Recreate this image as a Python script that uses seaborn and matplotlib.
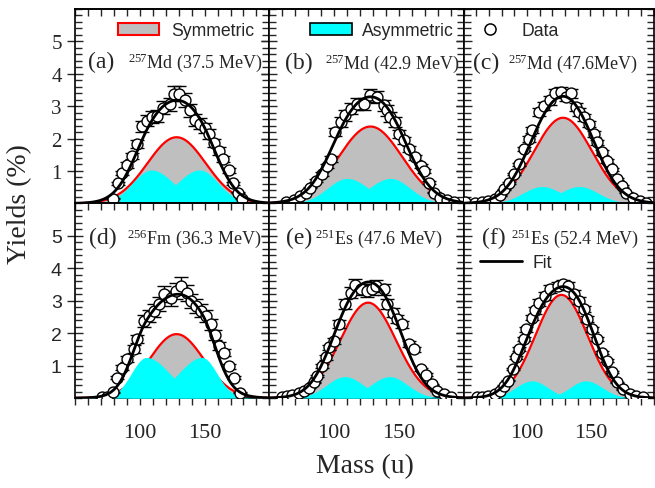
import numpy as np
import pandas as pd
import matplotlib
matplotlib.use("Agg")
import matplotlib.pyplot as plt
import seaborn as sns
from matplotlib.patches import Patch
from matplotlib.lines import Line2D
from matplotlib.ticker import MultipleLocator, FixedLocator

# ---------------- data ----------------
panel_tags = ["(a)", "(b)", "(c)", "(d)", "(e)", "(f)"]
panel_titles = [r"$^{257}$Md (37.5 MeV)", r"$^{257}$Md (42.9 MeV)", r"$^{257}$Md (47.6MeV)",
                r"$^{256}$Fm (36.3 MeV)", r"$^{251}$Es (47.6 MeV)", r"$^{251}$Es (52.4 MeV)"]

# fitted components
sym_amp = [2.04, 2.37, 2.64, 1.97, 2.94, 3.18]
sym_mu = [128.4, 128.0, 128.4, 128.4, 126.2, 127.1]
sym_sigma = [22.5, 24.5, 23.0, 21.0, 21.5, 20.6]
asym_amp = [1.03, 0.77, 0.52, 1.25, 0.66, 0.53]
asym_mu_light = [109.0, 110.0, 111.7, 105.0, 108.2, 104.0]
asym_mu_heavy = [146.0, 143.4, 141.2, 148.0, 142.7, 146.4]
asym_sigma_in = [17.0, 16.4, 15.5, 18.0, 14.3, 12.4]
asym_sigma_out = [14.6, 15.2, 15.0, 11.5, 14.0, 13.0]

# measured yields
mass_a = [79.5, 83, 86.5, 90, 94, 98, 102, 105.5, 109.5, 113.5, 118, 123, 126.5, 130.5, 134.5,
          138.5, 142.5, 146.5, 150.5, 153.5, 157, 161, 164.5, 168.5, 172, 175.5, 178.5]
yield_a = [0.15, 0.62, 0.93, 1.18, 1.46, 1.83, 2.38, 2.55, 2.67, 2.70, 2.95, 3.05, 3.38, 3.38, 3.18,
           2.87, 2.58, 2.45, 2.32, 2.14, 1.86, 1.62, 1.36, 1.02, 0.62, 0.33, 0.15]
mass_b = [62.5, 68.9, 74, 77.9, 81.7, 85.6, 90.7, 94.6, 97.2, 101, 104.9, 108.2, 112.6, 117.7, 122.9,
          128, 133.1, 138.3, 140.9, 143.4, 147.3, 149.9, 153.8, 157.6, 162.7, 166.6, 169.1, 173,
          176.9, 182, 187.2, 192.3]
yield_b = [0.04, 0.12, 0.23, 0.33, 0.49, 0.70, 0.90, 1.16, 1.37, 2.2, 2.51, 2.71, 2.92, 3.07, 3.07,
           3.33, 3.28, 3.02, 2.87, 2.66, 2.51, 2.14, 1.94, 1.68, 1.42, 1.16, 1.01, 0.64,
           0.33, 0.18, 0.10, 0.04]
mass_c = [50.8, 59, 64.1, 69.3, 74.4, 78.3, 82.1, 86, 89.8, 93.7, 97.6, 101.4, 104, 109.1, 113,
          118.1, 122, 127.1, 131, 134.8, 138.7, 141.2, 145, 148.9, 152.8, 155.4, 159.2, 163.1,
          167, 170.8, 174.6, 178.5, 183.6, 188.8, 193.9]
yield_c = [0.04, 0.02, 0.04, 0.07, 0.14, 0.25, 0.44, 0.64, 0.90, 1.21, 1.68, 1.99, 2.25, 2.82, 3.0,
           3.18, 3.39, 3.44, 3.29, 3.39, 2.98, 2.82, 2.65, 2.45, 2.14, 1.88, 1.57, 1.31,
           1.05, 0.75, 0.54, 0.33, 0.18, 0.07, 0.02]
mass_d = [70.6, 74.4, 79.5, 82.6, 86.5, 90.4, 95.5, 98.1, 103.3, 107.1, 111, 114.8, 118.6, 123.8,
          127.6, 131.5, 136.6, 139.2, 143, 146.9, 150.7, 154.6, 158, 161, 164.9, 168.5, 172.6, 177.2]
yield_d = [0.02, 0.04, 0.18, 0.63, 0.94, 1.2, 1.51, 1.82, 2.38, 2.53, 2.69, 2.89, 3.2, 3.07,
           3.3, 3.46, 3.25, 2.99, 2.84, 2.69, 2.53, 2.28, 1.95, 1.61, 1.40, 0.98, 0.63, 0.16]
mass_e = [60, 63.8, 67.6, 72.8, 76.6, 80.5, 84.3, 86.9, 90.7, 93.3, 95.9, 99.8, 103.6, 108.7, 112.6,
          116.4, 120.3, 125.4, 129.3, 131.9, 138.5, 141.1, 145, 148.8, 152.7, 157.8, 161.7, 166.8,
          170.7, 175.8, 179.7, 184.8, 190]
yield_e = [0.02, 0.05, 0.09, 0.15, 0.22, 0.32, 0.48, 0.68, 0.99, 1.25, 1.56, 1.76, 2.28, 2.89, 3.25,
           3.48, 3.35, 3.30, 3.35, 3.46, 3.35, 2.89, 2.63, 2.43, 2.27, 1.66, 1.50, 0.88,
           0.72, 0.42, 0.22, 0.12, 0.02]
mass_f = [60.3, 64.1, 69.3, 74.4, 78.3, 82.1, 84.7, 88.6, 91.1, 93.7, 97.5, 98.8, 104, 106.5, 109.1,
          114.3, 118.1, 124.5, 128, 132.2, 137.4, 141.2, 145.1, 147.7, 151.5, 155.4, 159.2, 163.1,
          166.9, 170.8, 175.9, 181.1, 186.2, 191.3]
yield_f = [0.02, 0.02, 0.07, 0.12, 0.22, 0.38, 0.53, 0.89, 1.25, 1.51, 1.81, 2.12, 2.48, 2.7, 2.94,
           3.15, 3.35, 3.46, 3.50, 3.44, 3.2, 3.0, 2.74, 2.43, 2.12, 1.81, 1.40, 1.15,
           0.79, 0.48, 0.27, 0.12, 0.07, 0.02]
rel_err = [0.07, 0.06, 0.042, 0.075, 0.052, 0.036]

masses = [mass_a, mass_b, mass_c, mass_d, mass_e, mass_f]
yields = [yield_a, yield_b, yield_c, yield_d, yield_e, yield_f]

x_ticks = [100, 150]
y_ticks = [1, 2, 3, 4, 5]

# ---------------- style ----------------
sns.set_style("ticks")
plt.rcParams["font.family"] = ["Liberation Serif", "DejaVu Serif"]
plt.rcParams["mathtext.fontset"] = "custom"
plt.rcParams["mathtext.rm"] = "Liberation Serif"
plt.rcParams["mathtext.it"] = "Liberation Serif:italic"
plt.rcParams["mathtext.default"] = "rm"

GREY = "#bfbfbf"
CYAN = "#00ffff"
RED = "#ff0000"
SANS = "Liberation Sans"
SERIF = "Liberation Serif"

fig, axes = plt.subplots(2, 3, figsize=(6.55, 4.89), dpi=100, sharex=True, sharey=True,
                         gridspec_kw=dict(width_ratios=[194.5, 194.5, 190]))
fig.subplots_adjust(left=0.1145, right=0.998, top=0.98, bottom=0.184, wspace=0, hspace=0)

grid = np.linspace(50, 200, 751)


def gauss(x, a, mu, s):
    return a * np.exp(-(x - mu) ** 2 / (2 * s ** 2))


def split_gauss(x, a, mu, s_left, s_right):
    s = np.where(x < mu, s_left, s_right)
    return a * np.exp(-(x - mu) ** 2 / (2 * s ** 2))


tag_pos = [(0.067, 0.70), (0.08, 0.695), (0.047, 0.695), (0.072, 0.798), (0.085, 0.798), (0.098, 0.798)]
title_pos = [(0.272, 0.70), (0.287, 0.695), (0.232, 0.695), (0.266, 0.798), (0.234, 0.798), (0.251, 0.798)]

for i, ax in enumerate(axes.flat):
    sym = gauss(grid, sym_amp[i], sym_mu[i], sym_sigma[i])
    light = split_gauss(grid, asym_amp[i], asym_mu_light[i], asym_sigma_out[i], asym_sigma_in[i])
    heavy = split_gauss(grid, asym_amp[i], asym_mu_heavy[i], asym_sigma_in[i], asym_sigma_out[i])
    fit = sym + light + heavy
    curves = pd.DataFrame({"mass": grid, "sym": sym, "fit": fit})

    ax.fill_between(grid, 0, sym, color=GREY, lw=0, zorder=1)
    sns.lineplot(data=curves, x="mass", y="sym", ax=ax, color=RED, lw=1.6, zorder=2)
    ax.fill_between(grid, 0, light, color=CYAN, lw=0, zorder=3)
    ax.fill_between(grid, 0, heavy, color=CYAN, lw=0, zorder=3)

    m = np.array(masses[i])
    y = np.array(yields[i])
    ax.errorbar(m, y, yerr=y * rel_err[i], fmt="none", ecolor="black", elinewidth=1.0,
                capsize=5, capthick=1.0, zorder=4)
    sns.scatterplot(x=m, y=y, ax=ax, marker="o", s=62, facecolor="white", edgecolor="black",
                    linewidth=1.0, zorder=5)
    sns.lineplot(data=curves, x="mass", y="fit", ax=ax, color="black", lw=2.0, zorder=6)

    ax.set_xlim(50, 200)
    ax.set_ylim(0, 6)
    ax.set_xlabel("")
    ax.set_ylabel("")

    ax.xaxis.set_major_locator(FixedLocator(x_ticks))
    ax.xaxis.set_minor_locator(MultipleLocator(10))
    ax.yaxis.set_major_locator(FixedLocator(y_ticks))
    ax.yaxis.set_minor_locator(MultipleLocator(0.2))
    ax.tick_params(axis="x", which="both", direction="out", length=5, width=1.0,
                   top=False, bottom=True, labelsize=16, pad=13)
    ax.tick_params(axis="y", which="major", direction="inout", length=11, width=1.0,
                   left=True, right=True, labelsize=15, pad=4)
    ax.tick_params(axis="y", which="minor", direction="in", length=5, width=1.0,
                   left=True, right=True)
    sec = ax.secondary_xaxis("top")
    sec.xaxis.set_major_locator(FixedLocator(x_ticks))
    sec.xaxis.set_minor_locator(MultipleLocator(10))
    sec.tick_params(axis="x", which="both", direction="in", length=5, width=1.0, labeltop=False)
    for sp in list(ax.spines.values()) + list(sec.spines.values()):
        sp.set_linewidth(1.2)
        sp.set_color("black")

    ax.text(tag_pos[i][0], tag_pos[i][1], panel_tags[i], transform=ax.transAxes,
            fontsize=17, family=SERIF, ha="left", va="baseline", zorder=7)
    ax.text(title_pos[i][0], title_pos[i][1], panel_titles[i], transform=ax.transAxes,
            fontsize=13, family=SERIF, ha="left", va="baseline", zorder=7)

axes[0, 0].tick_params(axis="y", labelfontfamily=SERIF, labelsize=15)
axes[1, 0].tick_params(axis="y", labelfontfamily=SANS, labelsize=14)
for ax in axes[1]:
    ax.tick_params(axis="x", labelfontfamily=SERIF)

legend_font = dict(family=SANS, size=12.7)
leg_kw = dict(loc="center left", frameon=False, borderpad=0, borderaxespad=0, prop=legend_font)
axes[0, 0].legend(handles=[Patch(facecolor=GREY, edgecolor=RED, lw=1.5)], labels=["Symmetric"],
                  bbox_to_anchor=(0.221, 0.887), handlelength=2.3, handleheight=0.62,
                  handletextpad=0.69, **leg_kw)
axes[0, 1].legend(handles=[Patch(facecolor=CYAN, edgecolor="black", lw=1.2)], labels=["Asymmetric"],
                  bbox_to_anchor=(0.208, 0.887), handlelength=2.4, handleheight=0.62,
                  handletextpad=0.58, **leg_kw)
axes[0, 2].legend(handles=[Line2D([], [], ls="none", marker="o", ms=8, mfc="white", mec="black",
                                  mew=1.1)], labels=["Data"],
                  bbox_to_anchor=(0.074, 0.887), handlelength=1.4, handletextpad=1.1, **leg_kw)
axes[1, 2].legend(handles=[Line2D([], [], color="black", lw=2.0)], labels=["Fit"],
                  bbox_to_anchor=(0.084, 0.697), handlelength=2.4, handletextpad=0.6, **leg_kw)

fig.text(0.0305, 0.582, "Yields (%)", rotation=90, ha="center", va="center", fontsize=20, family=SERIF)
fig.text(0.557, 0.045, "Mass (u)", ha="center", va="center", fontsize=20, family=SERIF)

fig.savefig("out.png", dpi=100)
